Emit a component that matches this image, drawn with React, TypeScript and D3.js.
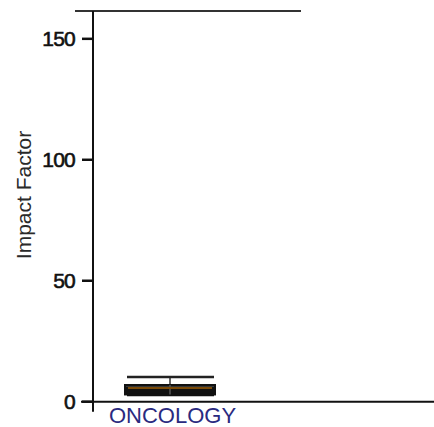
import React from "react";
import * as d3 from "d3";

const categories = ["ONCOLOGY"];
const maxValues = [10.2];
const q3Values = [6.9];
const medianValues = [5.9];
const q1Values = [3.0];
const minValues = [2.8];
const yTicks = [0, 50, 100, 150];
const topLineValue = 161.5;
const yLabel = "Impact Factor";

const W = 434;
const H = 427;

export default function App() {
  const y = d3.scaleLinear().domain([0, topLineValue]).range([401.7, 11]);
  const x = d3.scaleBand().domain(categories).range([93, 247]).paddingInner(0).paddingOuter(0.2);
  const font = "'Liberation Sans', Arial, sans-serif";
  const axisX = 93;
  const y0 = y(0);
  return (
    <svg width={W} height={H} style={{ position: "absolute", left: 0, top: 0, background: "#fff" }}>
      <rect x={0} y={0} width={W} height={H} fill="#ffffff" />
      <line x1={75} x2={301} y1={y(topLineValue)} y2={y(topLineValue)} stroke="#333" strokeWidth={2} />
      <line x1={axisX} x2={axisX} y1={y(topLineValue)} y2={y0 + 10} stroke="#111" strokeWidth={2} />
      <line x1={81} x2={W} y1={y0} y2={y0} stroke="#111" strokeWidth={2} />
      {yTicks.map((t) => (
        <g key={t}>
          <line x1={82} x2={axisX} y1={y(t)} y2={y(t)} stroke="#111" strokeWidth={2.5} />
          <text x={75} y={y(t) + 7.5} textAnchor="end" fontFamily={font} fontSize={21} fill="#111" stroke="#111" strokeWidth={0.6} letterSpacing={-0.8}>
            {t}
          </text>
        </g>
      ))}
      <text
        transform={`translate(31,195) rotate(-90)`}
        textAnchor="middle"
        fontFamily={font}
        fontSize={21}
        fill="#2a2a2a"
      >
        {yLabel}
      </text>
      {categories.map((c, i) => {
        const bx = x(c) as number;
        const bw = x.bandwidth();
        const cx = bx + bw / 2;
        const boxL = cx - 45;
        const boxR = cx + 45;
        return (
          <g key={c}>
            <line x1={cx} x2={cx} y1={y(maxValues[i])} y2={y(minValues[i])} stroke="#333" strokeWidth={1.5} />
            <line x1={boxL + 2} x2={boxR - 1} y1={y(maxValues[i])} y2={y(maxValues[i])} stroke="#222" strokeWidth={2.5} />
            <line x1={boxL + 2} x2={boxR - 1} y1={y(minValues[i])} y2={y(minValues[i])} stroke="#111" strokeWidth={2.5} />
            <rect x={boxL} y={y(q3Values[i])} width={boxR - boxL} height={y(medianValues[i]) - y(q3Values[i])} fill="#e6e6e6" stroke="#111" strokeWidth={2} />
            <rect x={boxL} y={y(medianValues[i])} width={boxR - boxL} height={y(q1Values[i]) - y(medianValues[i])} fill="#111" stroke="#111" strokeWidth={2} />
            <line x1={cx} x2={cx} y1={y(q3Values[i])} y2={y(q1Values[i])} stroke="#555" strokeWidth={1.5} />
            <line x1={boxL + 3} x2={boxR - 3} y1={y(medianValues[i]) + 0.5} y2={y(medianValues[i]) + 0.5} stroke="#7a4a08" strokeWidth={2} />
            <text x={172.5} y={423} textAnchor="middle" fontFamily={font} fontSize={22} fill="#2a2a80">
              {c}
            </text>
          </g>
        );
      })}
    </svg>
  );
}
